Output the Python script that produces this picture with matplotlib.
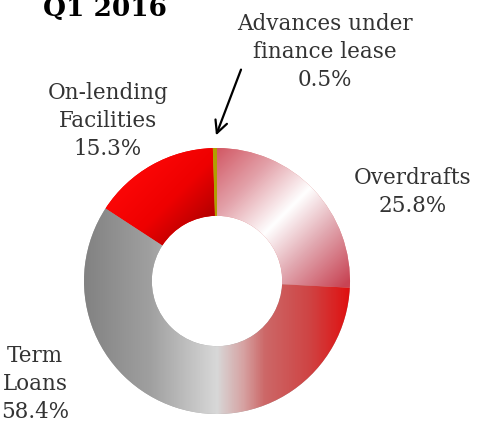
import numpy as np
import matplotlib.pyplot as plt
from matplotlib.colors import LinearSegmentedColormap

# loan book split, Q1 2016
title = "Q1 2016"
labels = ["Overdrafts", "Term\nLoans", "On-lending\nFacilities", "Advances under\nfinance lease"]
shares = [25.8, 58.4, 15.3, 0.5]

W, H = 481, 428
CX, CY, R = 217, 281, 133  # donut centre / radius in pixels

fig = plt.figure(figsize=(W / 100, H / 100), dpi=100)
ax = fig.add_axes([0, 0, 1, 1])

wedges, _ = ax.pie(shares, startangle=90, counterclock=False, radius=1,
                   colors=["#d88", "#aaa", "#e00", "#b0a000"],
                   wedgeprops=dict(width=0.51, linewidth=0))

# gradient fills, clipped to each wedge
n = 400
xs = np.linspace(-1, 1, n)
X, Y = np.meshgrid(xs, xs[::-1])


def grad(p0, p1):
    d = np.array(p1) - np.array(p0)
    t = ((X - p0[0]) * d[0] + (Y - p0[1]) * d[1]) / (d @ d)
    return np.clip(t, 0, 1)


fills = [
    (grad((0.0, 1.0), (1.0, 0.0)),
     [(0, "#d25864"), (0.25, "#e3a2aa"), (0.5, "#ffffff"), (0.72, "#e2aab2"), (1, "#c84454")]),
    (grad((-1.0, 0.0), (1.0, 0.0)),
     [(0, "#828282"), (0.25, "#a0a0a0"), (0.5, "#d8d8d8"), (0.6, "#d6a2a2"),
      (0.68, "#cc6868"), (0.85, "#cf4444"), (1, "#e01010")]),
    (grad((-0.6, 0.95), (-0.1, 0.45)),
     [(0, "#ff0808"), (0.6, "#ee0000"), (1, "#b80000")]),
    (grad((0, 0), (0, 1)), [(0, "#b0a000"), (1, "#b0a000")]),
]

for w, (g, stops) in zip(wedges, fills):
    cmap = LinearSegmentedColormap.from_list("g", stops)
    im = ax.imshow(g, extent=[-1, 1, -1, 1], cmap=cmap, vmin=0, vmax=1,
                   interpolation="bilinear", zorder=2)
    im.set_clip_path(w)

ax.set_xlim(-CX / R, (W - CX) / R)
ax.set_ylim(-(H - CY) / R, CY / R)
ax.axis("off")

font = dict(family="DejaVu Serif", size=15.5, color="#333333",
            ha="center", va="center", linespacing=1.35)

label_pos = [(413, 192), (35, 384), (108, 121), (325, 52)]
for lab, s, (px, py) in zip(labels, shares, label_pos):
    fig.text(px / W, 1 - py / H, f"{lab}\n{s}%", **font)

fig.text(43 / W, 1 - 16 / H, title, family="DejaVu Serif", weight="bold",
         size=19, color="black", ha="left", va="baseline")

ax.annotate("", xy=(215, H - 138), xytext=(242, H - 67),
            xycoords="figure pixels", textcoords="figure pixels",
            arrowprops=dict(arrowstyle="->", color="black", lw=1.6,
                            mutation_scale=22))

fig.savefig("out.png", dpi=100)
